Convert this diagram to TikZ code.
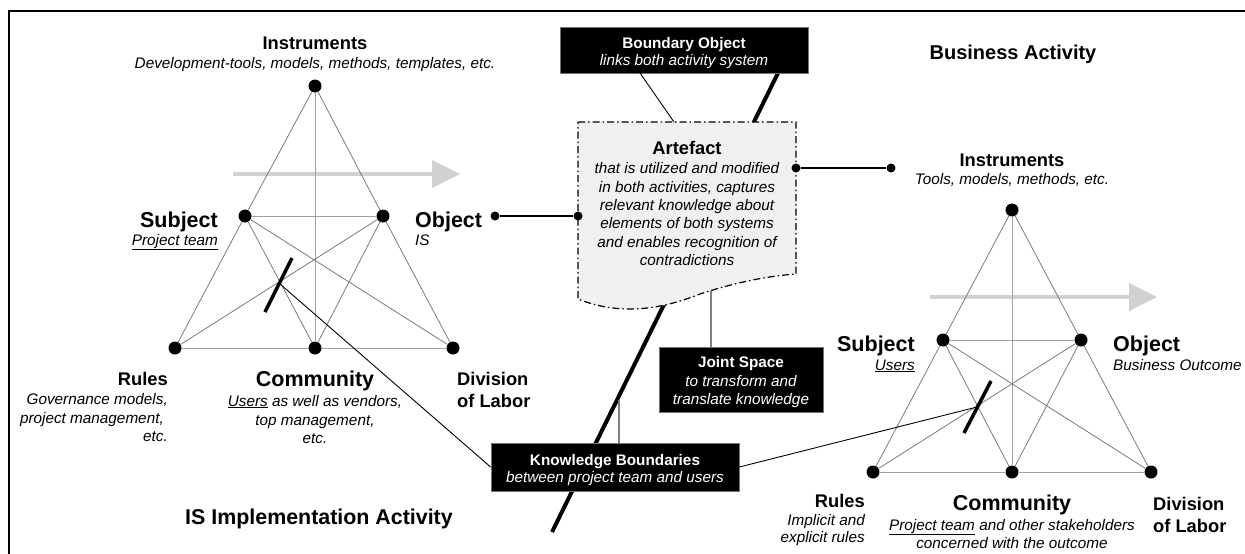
\documentclass[tikz,border=0pt]{standalone}
\usepackage{fontspec}
\setmainfont{Liberation Sans}
\usetikzlibrary{arrows.meta}
\begin{document}
\begin{tikzpicture}[x=1pt,y=-1pt,
  bigdot/.style={circle,fill=black,inner sep=0pt,minimum size=13pt},
  smalldot/.style={circle,fill=black,inner sep=0pt,minimum size=9pt},
  triD/.style={draw=black!52,line width=0.8pt},
  triL/.style={draw=black!36,line width=1pt},
  flowarrow/.style={draw=black!18,line width=4.5pt,-{Triangle[length=28pt,width=27pt]}},
  slash/.style={line width=3.5pt},
  ttl/.style={font=\fontsize{18.3}{22}\selectfont\bfseries,inner sep=0pt},
  ttlL/.style={font=\fontsize{21.5}{25}\selectfont\bfseries,inner sep=0pt},
  desc/.style={font=\fontsize{15.3}{18.5}\selectfont\itshape,inner sep=0pt},
  boxS/.style={fill=black,draw=black!55,line width=0.8pt,inner sep=0pt},
  boxT/.style={font=\fontsize{15.3}{18.5}\selectfont\bfseries,text=white,inner sep=0pt},
  boxD/.style={font=\fontsize{15.3}{18.5}\selectfont\itshape,text=white,inner sep=0pt},
  graylink/.style={draw=black!50,line width=1.1pt},
  thinlink/.style={draw=black,line width=0.9pt},
  dotlink/.style={draw=black,line width=1.5pt}
]
\useasboundingbox (0,0) rectangle (1245,554);
% frame
\draw[line width=1.3pt] (9,554) -- (9,11) -- (1245,11);

% flow arrows
\coordinate (la1) at (233,174); \coordinate (la2) at (460,174);
\coordinate (ra1) at (930,297); \coordinate (ra2) at (1157,297);
\draw[flowarrow] (la1) -- (la2);
\draw[flowarrow] (ra1) -- (ra2);

% ---------- left activity system ----------
\node[bigdot] (LI) at (315,86) {};
\node[bigdot] (LS) at (245,216) {};
\node[bigdot] (LO) at (383,216) {};
\node[bigdot] (LR) at (175,348) {};
\node[bigdot] (LC) at (315,348) {};
\node[bigdot] (LD) at (453,348) {};
\draw[triD] (LI) -- (LS); \draw[triD] (LS) -- (LR);
\draw[triD] (LI) -- (LO); \draw[triD] (LO) -- (LD);
\draw[triL] (LI) -- (LC);
\draw[triL] (LS) -- (LO);
\draw[triL] (LR) -- (LC); \draw[triL] (LC) -- (LD);
\draw[triD] (LS) -- (LC); \draw[triD] (LS) -- (LD);
\draw[triD] (LO) -- (LR); \draw[triD] (LO) -- (LC);

% ---------- right activity system ----------
\node[bigdot] (RI) at (1012,210) {};
\node[bigdot] (RS) at (943,340) {};
\node[bigdot] (RO) at (1081,340) {};
\node[bigdot] (RR) at (873,472) {};
\node[bigdot] (RC) at (1012,472) {};
\node[bigdot] (RD) at (1151,472) {};
\draw[triD] (RI) -- (RS); \draw[triD] (RS) -- (RR);
\draw[triD] (RI) -- (RO); \draw[triD] (RO) -- (RD);
\draw[triL] (RI) -- (RC);
\draw[triL] (RS) -- (RO);
\draw[triL] (RR) -- (RC); \draw[triL] (RC) -- (RD);
\draw[triD] (RS) -- (RC); \draw[triD] (RS) -- (RD);
\draw[triD] (RO) -- (RR); \draw[triD] (RO) -- (RC);

% slashes (knowledge boundaries)
\coordinate (ls1) at (265,312); \coordinate (ls2) at (292,258); \coordinate (LX) at (280,284);
\coordinate (rs1) at (964,433); \coordinate (rs2) at (991,381); \coordinate (RX) at (977,407);
\draw[slash] (ls1) -- (ls2);
\draw[slash] (rs1) -- (rs2);

% thick boundary line
\coordinate (bt) at (778,73); \coordinate (bb) at (552,532);
\draw[line width=4pt] (bt) -- (bb);

% artefact
\coordinate (afTL) at (578,122); \coordinate (afTR) at (796,122);
\coordinate (afBR) at (796,274); \coordinate (afBL) at (578,299);
\fill[black!6] (afTL) -- (afTR) -- (afBR) .. controls (770,276) and (740,281) .. (700,294)
  .. controls (655,312) and (615,314) .. (afBL) -- cycle;
\draw[line width=1.2pt,dash pattern=on 7pt off 3pt on 1.5pt off 3pt]
  (afTL) -- (afTR) -- (afBR) .. controls (770,276) and (740,281) .. (700,294)
  .. controls (655,312) and (615,314) .. (afBL) -- cycle;
\node[ttl,anchor=base] (AFt) at (687,154) {Artefact};
\node[desc,anchor=base] (AF1) at (687,173) {that is utilized and modified};
\node[desc,anchor=base] (AF2) at (687,192) {in both activities, captures};
\node[desc,anchor=base] (AF3) at (687,210) {relevant knowledge about};
\node[desc,anchor=base] (AF4) at (687,228) {elements of both systems};
\node[desc,anchor=base] (AF5) at (687,247) {and enables recognition of};
\node[desc,anchor=base] (AF6) at (687,265) {contradictions};

% boundary object box
\node[boxS,minimum width=248pt,minimum height=46pt] (BO) at (684,50) {};
\node[boxT,anchor=base] (BOt) at (684,48) {Boundary Object};
\node[boxD,anchor=base] (BOd) at (684,65) {links both activity system};
\coordinate (bo1) at (640,73); \coordinate (af1) at (674,122);
\draw[thinlink] (bo1) -- (af1);

% object <-> artefact links
\node[smalldot] (od1) at (495,216) {};
\node[smalldot] (od2) at (578,216) {};
\node[smalldot] (ad1) at (796,168) {};
\node[smalldot] (ad2) at (891,168) {};
\draw[dotlink] (od1) -- (od2);
\draw[dotlink] (ad1) -- (ad2);

% joint space box
\node[boxS,minimum width=164pt,minimum height=65pt] (JS) at (741,379.5) {};
\node[boxT,anchor=base] (JSt) at (741,367) {Joint Space};
\node[boxD,anchor=base] (JSd1) at (741,386) {to transform and};
\node[boxD,anchor=base] (JSd2) at (741,404) {translate knowledge};
\coordinate (js1) at (711,347); \coordinate (af2) at (711,291);
\draw[graylink] (js1) -- (af2);

% knowledge boundaries box
\coordinate (kb1) at (619,443); \coordinate (bl1) at (619,400);
\draw[graylink] (kb1) -- (bl1);
\node[boxS,minimum width=248pt,minimum height=48pt] (KB) at (615,467) {};
\node[boxT,anchor=base] (KBt) at (615,465) {Knowledge Boundaries};
\node[boxD,anchor=base] (KBd) at (615,482) {between project team and users};
\draw[thinlink] (LX) -- (KB.west);
\draw[thinlink] (KB.east) -- (RX);

% ---------- left labels ----------
\node[ttl,anchor=base] (LIt) at (315,49.5) {Instruments};
\node[desc,anchor=base] (LId) at (315,68) {Development-tools, models, methods, templates, etc.};
\node[ttlL,anchor=base east] (LSt) at (218,227) {Subject};
\node[desc,anchor=base east] (LSd) at (218,245) {\underline{Project team}};
\node[ttlL,anchor=base west] (LOt) at (415,227) {Object};
\node[desc,anchor=base west] (LOd) at (415,245) {IS};
\node[ttl,anchor=base east] (LRt) at (168,385) {Rules};
\node[desc,anchor=base east] (LRd1) at (168,404) {Governance models,};
\node[desc,anchor=base east] (LRd2) at (164,423) {project management,};
\node[desc,anchor=base east] (LRd3) at (168,441) {etc.};
\node[ttlL,anchor=base] (LCt) at (315,386) {Community};
\node[desc,anchor=base] (LCd1) at (315,406) {\underline{Users} as well as vendors,};
\node[desc,anchor=base] (LCd2) at (315,425) {top management,};
\node[desc,anchor=base] (LCd3) at (315,443) {etc.};
\node[ttl,anchor=base west] (LDt1) at (457,385) {Division};
\node[ttl,anchor=base west] (LDt2) at (457,407) {of Labor};
\node[font=\fontsize{21.4}{25}\selectfont\bfseries,inner sep=0pt,anchor=base] (LT) at (319,524) {IS Implementation Activity};

% ---------- right labels ----------
\node[font=\fontsize{20}{24}\selectfont\bfseries,inner sep=0pt,anchor=base] (RT) at (1013,59) {Business Activity};
\node[ttl,anchor=base] (RIt) at (1012,166) {Instruments};
\node[desc,anchor=base] (RId) at (1012,184) {Tools, models, methods, etc.};
\node[ttlL,anchor=base east] (RSt) at (915,351) {Subject};
\node[desc,anchor=base east] (RSd) at (915,370) {\underline{Users}};
\node[ttlL,anchor=base west] (ROt) at (1113,351) {Object};
\node[desc,anchor=base west] (ROd) at (1113,370) {Business Outcome};
\node[ttl,anchor=base east] (RRt) at (865,507) {Rules};
\node[desc,anchor=base east] (RRd1) at (865,525) {Implicit and};
\node[desc,anchor=base east] (RRd2) at (865,542) {explicit rules};
\node[ttlL,anchor=base] (RCt) at (1012,510) {Community};
\node[desc,anchor=base] (RCd1) at (1012,530) {\underline{Project team} and other stakeholders};
\node[desc,anchor=base] (RCd2) at (1012,548) {concerned with the outcome};
\node[ttl,anchor=base west] (RDt1) at (1153,510) {Division};
\node[ttl,anchor=base west] (RDt2) at (1153,532) {of Labor};
\end{tikzpicture}
\end{document}
